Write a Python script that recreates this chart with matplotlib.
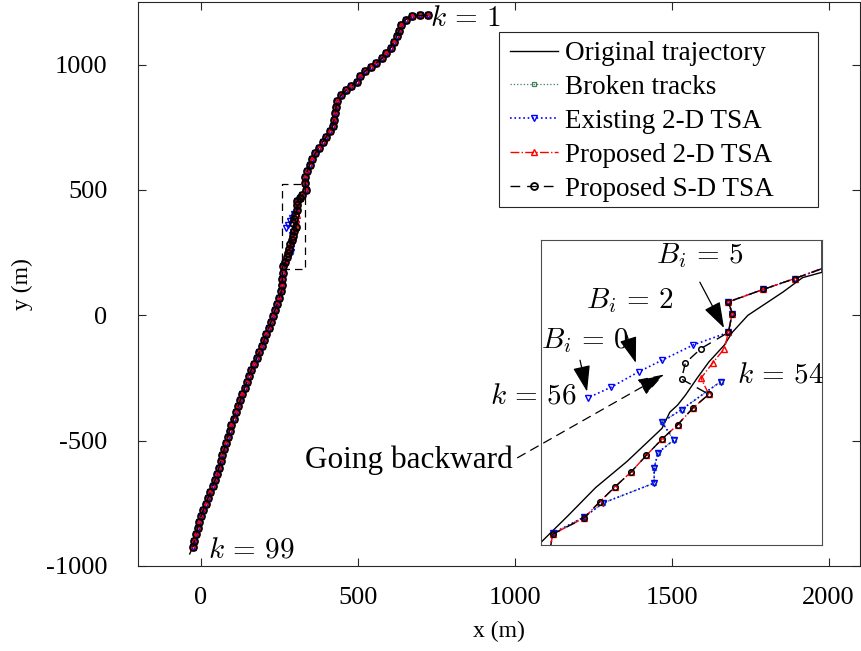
import matplotlib
matplotlib.use('Agg')
import matplotlib.pyplot as plt
import numpy as np
from matplotlib.ticker import FuncFormatter
from matplotlib.patches import Rectangle

plt.rcParams['font.family'] = ['Liberation Serif', 'DejaVu Serif']
plt.rcParams['mathtext.fontset'] = 'cm'

# Proposed S-D TSA track, k = 1 ... 99 (m)
sd_x = [723, 698, 673, 653, 639, 632, 624, 615, 605, 591,
        577, 559, 541, 523, 509, 497, 480, 462, 446, 435,
        431, 429, 425, 421, 411, 400, 388, 376, 365, 354,
        347, 340, 332, 333, 336, 324, 316, 307, 308, 307,
        300, 296, 295, 302, 298, 294, 290, 286, 282, 278,
        274, 270, 262, 261, 260, 259, 257, 250, 244, 237,
        230, 224, 217, 209, 202, 195, 187, 178, 170, 161,
        153, 147, 140, 133, 126, 119, 112, 105, 98, 92,
        86, 80, 75, 69, 64, 58, 53, 46, 38, 31,
        23, 16, 8, 1, -6, -10, -15, -20, -25]
sd_y = [1196, 1196, 1195, 1180, 1160, 1136, 1113, 1090, 1067, 1046,
        1025, 1007, 990, 974, 954, 932, 914, 897, 877, 856,
        831, 806, 781, 757, 734, 712, 690, 668, 646, 623,
        600, 576, 552, 527, 499, 480, 468, 454, 441, 420,
        402, 386, 368, 351, 336, 317, 301, 283, 264, 248,
        231, 213, 195, 170, 145, 120, 95, 70, 46, 22,
        -3, -27, -51, -75, -99, -123, -147, -171, -194, -218,
        -242, -266, -290, -315, -339, -363, -387, -412, -436, -461,
        -485, -509, -534, -559, -583, -608, -633, -657, -681, -705,
        -729, -753, -777, -801, -825, -850, -874, -899, -924]

# Proposed 2-D TSA differs from S-D at k = 41..43
red_k = [41, 42, 43]
red_x = [306, 303, 300]
red_y = [402, 386, 369]

# Existing 2-D TSA: first track runs off to the left after k = 40
blue1_x = [298, 290, 284, 277, 271]
blue1_y = [406, 389, 376, 359, 347]
# second track starts at k = 44
blue2_x = [305, 295, 290, 293, 289, 288, 288, 275, 270, 262]
blue2_y = [365, 334, 320, 300, 286, 269, 252, 230, 214, 196]

# Original trajectory
orig_x = [725, 675, 643, 627, 608, 580, 548, 516, 497, 475, 452, 433, 430,
          420, 389, 357, 331, 331, 326, 321, 312, 308, 306, 302, 299, 296,
          294, 292, 290, 281, 273, 266, 259, 258, 229, 194, 156, 118, 102,
          76, 54, 35, -3, -25, -35]
orig_y = [1198, 1196, 1172, 1120, 1072, 1028, 996, 968, 932, 908, 888, 852,
          812, 752, 692, 632, 548, 487, 481, 465, 439, 420, 406, 387, 369,
          350, 339, 331, 313, 276, 247, 216, 186, 100, -8, -128, -232, -368,
          -420, -528, -628, -692, -812, -924, -952]

box_x = [259, 331]
box_y = [183, 523]

sd_x = np.array(sd_x, float)
sd_y = np.array(sd_y, float)
r_x = sd_x.copy(); r_y = sd_y.copy()
r_x[np.array(red_k) - 1] = red_x
r_y[np.array(red_k) - 1] = red_y
b_x = np.concatenate([sd_x[:40], blue1_x, [np.nan], blue2_x, sd_x[53:]])
b_y = np.concatenate([sd_y[:40], blue1_y, [np.nan], blue2_y, sd_y[53:]])
g_x = np.concatenate([sd_x[:40], [np.nan], blue2_x, sd_x[53:]])
g_y = np.concatenate([sd_y[:40], [np.nan], blue2_y, sd_y[53:]])

green = (0.25, 0.5, 0.35)
frame = '0.15'


def draw(a, ms_o, ms_t, mew_o):
    a.plot(orig_x, orig_y, '-', color='k', lw=1.0, label='Original trajectory')
    a.plot(g_x, g_y, ':', color=green, lw=0.9, marker='s', ms=3,
           mfc='none', mew=0.9, label='Broken tracks')
    a.plot(b_x, b_y, ':', color='b', lw=1.2, marker='v', ms=ms_t,
           mfc='none', mew=1.0, label='Existing 2-D TSA')
    a.plot(r_x, r_y, '-.', color='r', lw=1.0, marker='^', ms=ms_t,
           mfc='none', mew=1.0, label='Proposed 2-D TSA')
    a.plot(sd_x, sd_y, '--', color='k', lw=1.0, marker='o', ms=ms_o,
           mfc='none', mew=mew_o, dashes=(7, 5), label='Proposed S-D TSA')


fig = plt.figure(figsize=(8.62, 6.51), dpi=100)
ax = fig.add_axes([0.160, 0.1306, 0.8376, 0.8664])
draw(ax, 5, 4.5, 1.3)
ax.plot([box_x[0], box_x[1], box_x[1], box_x[0], box_x[0]],
        [box_y[0], box_y[0], box_y[1], box_y[1], box_y[0]],
        '--', color='k', lw=0.9, dashes=(6, 4))
ax.set_xlim(-200, 2100)
ax.set_ylim(-1000, 1250)
ax.set_xticks([0, 500, 1000, 1500, 2000])
ax.set_yticks([-1000, -500, 0, 500, 1000])
fmt = FuncFormatter(lambda v, p: f'{v:g}')
ax.xaxis.set_major_formatter(fmt)
ax.yaxis.set_major_formatter(fmt)
ax.tick_params(direction='in', top=True, right=True, length=6,
               labelsize=19, color=frame)
ax.tick_params(axis='x', pad=15)
ax.tick_params(axis='y', pad=22)
for s in ax.spines.values():
    s.set_color(frame)
    s.set_linewidth(0.8)
ax.set_xlabel('x (m)', fontsize=17)
ax.set_ylabel('y (m)', fontsize=17)
ax.xaxis.set_label_coords(0.5, -(621 - 566) / 564)
ax.yaxis.set_label_coords(-(138 - 33) / 722, 0.5)

ax.text(729, 1182, r'$k\,=\,1$', fontsize=21, ha='left', va='center')
ax.text(22, -940, r'$k\,=\,99$', fontsize=21, ha='left', va='center')

# legend with MATLAB-like wide box
ax.add_patch(Rectangle((499 / 862, 1 - 207 / 651), 319 / 862, 175 / 651,
                       transform=fig.transFigure, facecolor='white',
                       edgecolor=frame, lw=0.8, zorder=4.9, clip_on=False))
leg = ax.legend(loc='upper left', bbox_to_anchor=(510 / 862, 1 - 41 / 651),
                bbox_transform=fig.transFigure, fontsize=19.5, frameon=False,
                handlelength=1.78, handletextpad=0.26, labelspacing=0.33,
                borderpad=0, borderaxespad=0)
leg.set_zorder(5)

# zoomed inset
ax_in = fig.add_axes([541 / 862, (651 - 545) / 651, 281 / 862, 305 / 651])
draw(ax_in, 4, 4.5, 1.1)
ax_in.set_xlim(box_x)
ax_in.set_ylim(box_y)
ax_in.set_xticks([])
ax_in.set_yticks([])
for s in ax_in.spines.values():
    s.set_color('0.3')
    s.set_linewidth(0.8)

head = dict(arrowstyle='-|>,head_length=0.9,head_width=0.3', color='k',
            lw=0.9, shrinkA=0, shrinkB=0, mutation_scale=18)
ax_in.text(299.7, 506, r'$B_i\,=\,5$', fontsize=21, ha='center', va='center')
ax_in.annotate('', xy=(305.9, 424.9), xytext=(299.7, 476), arrowprops=head)
ax_in.text(281.8, 456, r'$B_i\,=\,2$', fontsize=21, ha='center', va='center')
ax_in.annotate('', xy=(283.3, 386), xytext=(281.0, 417), arrowprops=head)
ax_in.text(270.3, 411, r'$B_i\,=\,0$', fontsize=21, ha='center', va='center')
ax_in.annotate('', xy=(270.8, 354), xytext=(269.0, 389), arrowprops=head)
ax_in.text(268.2, 348, r'$k\,=\,56$', fontsize=21, ha='right', va='center',
           clip_on=False)
ax_in.text(309.2, 372.5, r'$k\,=\,54$', fontsize=21, ha='left', va='center')

ax_in.annotate('Going backward', xy=(290.5, 373), xycoords='data',
               xytext=(331, -580), textcoords=ax.transData,
               fontsize=22.5, ha='left', va='center', annotation_clip=False,
               arrowprops=dict(arrowstyle='-|>,head_length=0.9,head_width=0.3',
                               color='k', lw=0.9, linestyle=(0, (7, 5)),
                               shrinkA=2, shrinkB=0, mutation_scale=18,
                               relpos=(1, 0.5)))

fig.savefig('out.png', dpi=100)
